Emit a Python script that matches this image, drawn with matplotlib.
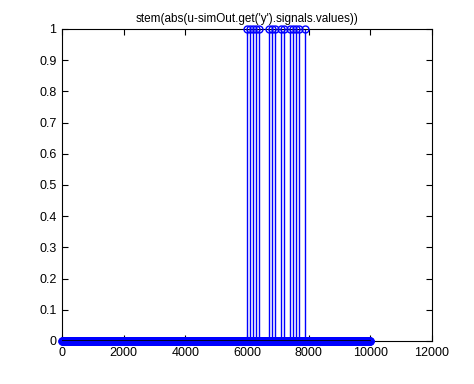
import numpy as np
import matplotlib.pyplot as plt

plt.rcParams['font.family'] = ['Liberation Sans', 'DejaVu Sans']

# sample positions and the samples where the error is 1
x = np.arange(0, 10001, 10)
ones_at = [6000, 6100, 6200, 6300, 6400, 6700, 6800, 6900, 7100, 7200,
           7400, 7500, 7600, 7700, 7900]
y = np.zeros(len(x))
y[np.isin(x, ones_at)] = 1

fig = plt.figure(figsize=(4.74, 3.84), dpi=100)
ax = fig.add_axes([0.131, 0.112, 0.78, 0.8125])

markerline, stemlines, baseline = ax.stem(x, y, linefmt='b-', markerfmt='bo', basefmt='k-')
plt.setp(markerline, markersize=5, markerfacecolor='none', markeredgecolor='b',
         markeredgewidth=1, clip_on=False, zorder=3)
plt.setp(stemlines, linewidth=1)
plt.setp(baseline, linewidth=1.2, zorder=4)

ax.set_xlim(0, 12000)
ax.set_ylim(0, 1)
ax.set_xticks(np.arange(0, 12001, 2000))
ax.set_yticks(np.arange(0, 1.01, 0.1))
ax.set_yticklabels(['0', '0.1', '0.2', '0.3', '0.4', '0.5', '0.6', '0.7', '0.8', '0.9', '1'])
ax.tick_params(direction='in', labelsize=9, length=4.5, top=True, right=True, pad=4)
for s in ax.spines.values():
    s.set_linewidth(0.8)
ax.set_title("stem(abs(u-simOut.get('y').signals.values))", fontsize=8.5, pad=5)

fig.savefig('out.png', dpi=100)
